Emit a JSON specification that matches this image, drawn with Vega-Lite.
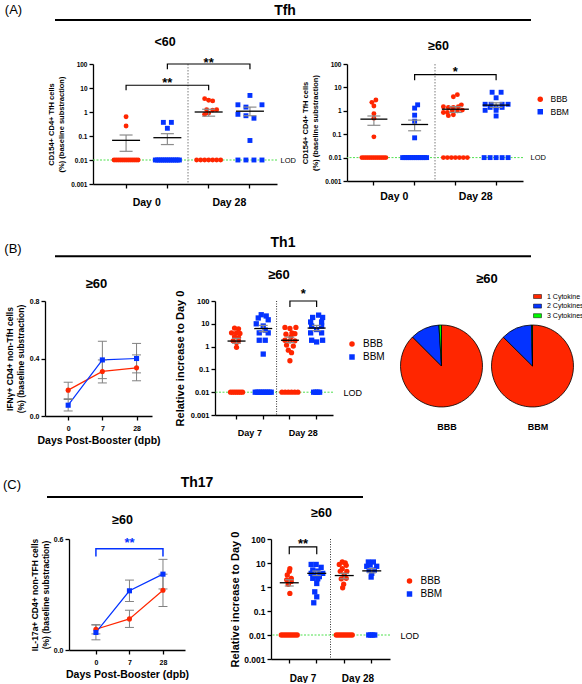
{
"$schema":"https://vega.github.io/schema/vega-lite/v6.json",
"padding":{"left":2,"top":4,"right":0,"bottom":0},
"bounds":"full",
"spacing":0,
"resolve":{"scale":{"color":"independent","shape":"independent","xOffset":"independent"},"legend":{"color":"independent","shape":"independent"}},
"config":{
 "view":{"stroke":null},
 "font":"Liberation Sans",
 "axis":{"grid":false,"domainColor":"black","tickColor":"black","labelColor":"black","titleColor":"black","domainWidth":1.3,"tickWidth":1.3,"tickSize":4,"labelFont":"Liberation Sans","titleFont":"Liberation Sans","labelFontWeight":"bold","titleFontWeight":"bold"},
 "title":{"font":"Liberation Sans","color":"black","fontWeight":"bold","anchor":"middle","frame":"group","baseline":"alphabetic"},
 "legend":{"labelFont":"Liberation Sans","labelColor":"black","padding":0},
 "text":{"font":"Liberation Sans","color":"black"}
},
"datasets":{
 "tfh1_pts":[
  {"g":"D0_BBB","s":"BBB","v":0.63,"k":0},{"g":"D0_BBB","s":"BBB","v":0.26,"k":0},
  {"g":"D0_BBB","s":"BBB","v":0.01,"k":-6},{"g":"D0_BBB","s":"BBB","v":0.01,"k":-5},{"g":"D0_BBB","s":"BBB","v":0.01,"k":-4},{"g":"D0_BBB","s":"BBB","v":0.01,"k":-3},{"g":"D0_BBB","s":"BBB","v":0.01,"k":-2},{"g":"D0_BBB","s":"BBB","v":0.01,"k":-1},{"g":"D0_BBB","s":"BBB","v":0.01,"k":0},{"g":"D0_BBB","s":"BBB","v":0.01,"k":1},{"g":"D0_BBB","s":"BBB","v":0.01,"k":2},{"g":"D0_BBB","s":"BBB","v":0.01,"k":3},{"g":"D0_BBB","s":"BBB","v":0.01,"k":4},{"g":"D0_BBB","s":"BBB","v":0.01,"k":5},{"g":"D0_BBB","s":"BBB","v":0.01,"k":6},
  {"g":"D0_BBM","s":"BBM","v":0.37,"k":-2},{"g":"D0_BBM","s":"BBM","v":0.37,"k":2},{"g":"D0_BBM","s":"BBM","v":0.21,"k":0},
  {"g":"D0_BBM","s":"BBM","v":0.01,"k":-6},{"g":"D0_BBM","s":"BBM","v":0.01,"k":-5},{"g":"D0_BBM","s":"BBM","v":0.01,"k":-4},{"g":"D0_BBM","s":"BBM","v":0.01,"k":-3},{"g":"D0_BBM","s":"BBM","v":0.01,"k":-2},{"g":"D0_BBM","s":"BBM","v":0.01,"k":-1},{"g":"D0_BBM","s":"BBM","v":0.01,"k":0},{"g":"D0_BBM","s":"BBM","v":0.01,"k":1},{"g":"D0_BBM","s":"BBM","v":0.01,"k":2},{"g":"D0_BBM","s":"BBM","v":0.01,"k":3},{"g":"D0_BBM","s":"BBM","v":0.01,"k":4},{"g":"D0_BBM","s":"BBM","v":0.01,"k":5},{"g":"D0_BBM","s":"BBM","v":0.01,"k":6},
  {"g":"D28_BBB","s":"BBB","v":3.6,"k":-2},{"g":"D28_BBB","s":"BBB","v":3.1,"k":0},{"g":"D28_BBB","s":"BBB","v":2.9,"k":2},{"g":"D28_BBB","s":"BBB","v":1.25,"k":-1},{"g":"D28_BBB","s":"BBB","v":1.2,"k":2},{"g":"D28_BBB","s":"BBB","v":1.25,"k":4},{"g":"D28_BBB","s":"BBB","v":0.9,"k":0},{"g":"D28_BBB","s":"BBB","v":0.8,"k":-2},
  {"g":"D28_BBB","s":"BBB","v":0.01,"k":-6},{"g":"D28_BBB","s":"BBB","v":0.01,"k":-4},{"g":"D28_BBB","s":"BBB","v":0.01,"k":-2},{"g":"D28_BBB","s":"BBB","v":0.01,"k":0},{"g":"D28_BBB","s":"BBB","v":0.01,"k":2},{"g":"D28_BBB","s":"BBB","v":0.01,"k":4},{"g":"D28_BBB","s":"BBB","v":0.01,"k":6},
  {"g":"D28_BBM","s":"BBM","v":4.9,"k":0},{"g":"D28_BBM","s":"BBM","v":2.0,"k":-6},{"g":"D28_BBM","s":"BBM","v":2.0,"k":6},{"g":"D28_BBM","s":"BBM","v":1.6,"k":-2},{"g":"D28_BBM","s":"BBM","v":0.8,"k":-6},{"g":"D28_BBM","s":"BBM","v":0.7,"k":-2},{"g":"D28_BBM","s":"BBM","v":0.55,"k":2},{"g":"D28_BBM","s":"BBM","v":0.065,"k":0},
  {"g":"D28_BBM","s":"BBM","v":0.01,"k":-6},{"g":"D28_BBM","s":"BBM","v":0.01,"k":-2},{"g":"D28_BBM","s":"BBM","v":0.01,"k":2},{"g":"D28_BBM","s":"BBM","v":0.01,"k":6}
 ],
 "tfh1_st":[{"g":"D0_BBB","m":0.066,"lo":0.023,"hi":0.11},{"g":"D0_BBM","m":0.085,"lo":0.044,"hi":0.125},{"g":"D28_BBB","m":1.0,"lo":0.67,"hi":1.3},{"g":"D28_BBM","m":1.08,"lo":0.7,"hi":1.6}],
 "tfh1_br":[{"b":1,"g":"D0_BBB","y":8,"o":1},{"b":1,"g":"D0_BBB","y":13,"o":2},{"b":1,"g":"D28_BBB","y":13,"o":3},{"b":1,"g":"D28_BBB","y":8,"o":4},{"b":2,"g":"D0_BBM","y":60,"o":1},{"b":2,"g":"D0_BBM","y":100,"o":2},{"b":2,"g":"D28_BBM","y":100,"o":3},{"b":2,"g":"D28_BBM","y":60,"o":4}],
 "tfh1_sig":[{"g":"D0_BBM","y":22,"lab":"**"},{"g":"D28_BBB","y":147,"lab":"**"}],
 "tfh2_pts":[
  {"g":"D0_BBB","s":"BBB","v":2.9,"k":1},{"g":"D0_BBB","s":"BBB","v":2.3,"k":-1},{"g":"D0_BBB","s":"BBB","v":1.6,"k":0},{"g":"D0_BBB","s":"BBB","v":0.75,"k":0},{"g":"D0_BBB","s":"BBB","v":0.48,"k":0},{"g":"D0_BBB","s":"BBB","v":0.077,"k":0},
  {"g":"D0_BBB","s":"BBB","v":0.01,"k":-6},{"g":"D0_BBB","s":"BBB","v":0.01,"k":-5},{"g":"D0_BBB","s":"BBB","v":0.01,"k":-4},{"g":"D0_BBB","s":"BBB","v":0.01,"k":-3},{"g":"D0_BBB","s":"BBB","v":0.01,"k":-2},{"g":"D0_BBB","s":"BBB","v":0.01,"k":-1},{"g":"D0_BBB","s":"BBB","v":0.01,"k":0},{"g":"D0_BBB","s":"BBB","v":0.01,"k":1},{"g":"D0_BBB","s":"BBB","v":0.01,"k":2},{"g":"D0_BBB","s":"BBB","v":0.01,"k":3},{"g":"D0_BBB","s":"BBB","v":0.01,"k":4},{"g":"D0_BBB","s":"BBB","v":0.01,"k":5},{"g":"D0_BBB","s":"BBB","v":0.01,"k":6},
  {"g":"D0_BBM","s":"BBM","v":1.8,"k":1.5},{"g":"D0_BBM","s":"BBM","v":1.3,"k":0},{"g":"D0_BBM","s":"BBM","v":0.65,"k":0},{"g":"D0_BBM","s":"BBM","v":0.36,"k":0},{"g":"D0_BBM","s":"BBM","v":0.07,"k":0},
  {"g":"D0_BBM","s":"BBM","v":0.01,"k":-6},{"g":"D0_BBM","s":"BBM","v":0.01,"k":-5},{"g":"D0_BBM","s":"BBM","v":0.01,"k":-4},{"g":"D0_BBM","s":"BBM","v":0.01,"k":-3},{"g":"D0_BBM","s":"BBM","v":0.01,"k":-2},{"g":"D0_BBM","s":"BBM","v":0.01,"k":-1},{"g":"D0_BBM","s":"BBM","v":0.01,"k":0},{"g":"D0_BBM","s":"BBM","v":0.01,"k":1},{"g":"D0_BBM","s":"BBM","v":0.01,"k":2},{"g":"D0_BBM","s":"BBM","v":0.01,"k":3},{"g":"D0_BBM","s":"BBM","v":0.01,"k":4},{"g":"D0_BBM","s":"BBM","v":0.01,"k":5},{"g":"D0_BBM","s":"BBM","v":0.01,"k":6},
  {"g":"D28_BBB","s":"BBB","v":4.9,"k":1},{"g":"D28_BBB","s":"BBB","v":4.0,"k":-1},{"g":"D28_BBB","s":"BBB","v":1.5,"k":-6},{"g":"D28_BBB","s":"BBB","v":1.4,"k":-3.5},{"g":"D28_BBB","s":"BBB","v":1.4,"k":-1},{"g":"D28_BBB","s":"BBB","v":1.5,"k":1.5},{"g":"D28_BBB","s":"BBB","v":1.8,"k":3},{"g":"D28_BBB","s":"BBB","v":0.85,"k":-6},{"g":"D28_BBB","s":"BBB","v":0.85,"k":-4},{"g":"D28_BBB","s":"BBB","v":1.0,"k":-1.5},{"g":"D28_BBB","s":"BBB","v":1.0,"k":1},{"g":"D28_BBB","s":"BBB","v":1.07,"k":3.5},{"g":"D28_BBB","s":"BBB","v":0.62,"k":-3.5},{"g":"D28_BBB","s":"BBB","v":0.68,"k":-1},
  {"g":"D28_BBB","s":"BBB","v":0.01,"k":-6},{"g":"D28_BBB","s":"BBB","v":0.01,"k":-4},{"g":"D28_BBB","s":"BBB","v":0.01,"k":-2},{"g":"D28_BBB","s":"BBB","v":0.01,"k":0},{"g":"D28_BBB","s":"BBB","v":0.01,"k":2},{"g":"D28_BBB","s":"BBB","v":0.01,"k":4},{"g":"D28_BBB","s":"BBB","v":0.01,"k":6},
  {"g":"D28_BBM","s":"BBM","v":6.2,"k":-2},{"g":"D28_BBM","s":"BBM","v":6.2,"k":2.5},{"g":"D28_BBM","s":"BBM","v":3.6,"k":0},{"g":"D28_BBM","s":"BBM","v":1.9,"k":-5.5},{"g":"D28_BBM","s":"BBM","v":1.9,"k":-2.5},{"g":"D28_BBM","s":"BBM","v":1.9,"k":3},{"g":"D28_BBM","s":"BBM","v":1.9,"k":6},{"g":"D28_BBM","s":"BBM","v":1.4,"k":-3},{"g":"D28_BBM","s":"BBM","v":1.4,"k":0},{"g":"D28_BBM","s":"BBM","v":1.4,"k":3},{"g":"D28_BBM","s":"BBM","v":1.05,"k":-5.5},{"g":"D28_BBM","s":"BBM","v":1.05,"k":0},{"g":"D28_BBM","s":"BBM","v":0.6,"k":0},
  {"g":"D28_BBM","s":"BBM","v":0.01,"k":-6},{"g":"D28_BBM","s":"BBM","v":0.01,"k":-3},{"g":"D28_BBM","s":"BBM","v":0.01,"k":0},{"g":"D28_BBM","s":"BBM","v":0.01,"k":3},{"g":"D28_BBM","s":"BBM","v":0.01,"k":6}
 ],
 "tfh2_st":[{"g":"D0_BBB","m":0.44,"lo":0.24,"hi":0.6},{"g":"D0_BBM","m":0.26,"lo":0.14,"hi":0.4},{"g":"D28_BBB","m":1.17,"lo":0.85,"hi":1.5},{"g":"D28_BBM","m":1.75,"lo":1.4,"hi":2.2}],
 "tfh2_br":[{"b":1,"g":"D0_BBM","y":20,"o":1},{"b":1,"g":"D0_BBM","y":35,"o":2},{"b":1,"g":"D28_BBM","y":35,"o":3},{"b":1,"g":"D28_BBM","y":20,"o":4}],
 "tfh2_sig":[{"g":"D28_BBB","y":62,"lab":"*"}],
 "th1_pts":[
  {"g":"D7_BBB","s":"BBB","v":6.5,"k":-1},{"g":"D7_BBB","s":"BBB","v":6,"k":1},{"g":"D7_BBB","s":"BBB","v":4,"k":-2.5},{"g":"D7_BBB","s":"BBB","v":4,"k":0},{"g":"D7_BBB","s":"BBB","v":3.8,"k":1.7},{"g":"D7_BBB","s":"BBB","v":2.7,"k":-1},{"g":"D7_BBB","s":"BBB","v":2.5,"k":1},{"g":"D7_BBB","s":"BBB","v":1.8,"k":-1.7},{"g":"D7_BBB","s":"BBB","v":1.8,"k":1},{"g":"D7_BBB","s":"BBB","v":1.5,"k":0},{"g":"D7_BBB","s":"BBB","v":0.93,"k":0},
  {"g":"D7_BBB","s":"BBB","v":0.01,"k":-3},{"g":"D7_BBB","s":"BBB","v":0.01,"k":-2},{"g":"D7_BBB","s":"BBB","v":0.01,"k":-1},{"g":"D7_BBB","s":"BBB","v":0.01,"k":0},{"g":"D7_BBB","s":"BBB","v":0.01,"k":1},{"g":"D7_BBB","s":"BBB","v":0.01,"k":2},{"g":"D7_BBB","s":"BBB","v":0.01,"k":3},
  {"g":"D7_BBM","s":"BBM","v":25,"k":-1},{"g":"D7_BBM","s":"BBM","v":22,"k":1.5},{"g":"D7_BBM","s":"BBM","v":18,"k":-2.5},{"g":"D7_BBM","s":"BBM","v":15,"k":2.5},{"g":"D7_BBM","s":"BBM","v":10,"k":-3.5},{"g":"D7_BBM","s":"BBM","v":8,"k":0},{"g":"D7_BBM","s":"BBM","v":5.3,"k":1},{"g":"D7_BBM","s":"BBM","v":4,"k":-2},{"g":"D7_BBM","s":"BBM","v":4,"k":2.5},{"g":"D7_BBM","s":"BBM","v":1.9,"k":-2},{"g":"D7_BBM","s":"BBM","v":1.9,"k":1},{"g":"D7_BBM","s":"BBM","v":0.47,"k":0},
  {"g":"D7_BBM","s":"BBM","v":0.01,"k":-4},{"g":"D7_BBM","s":"BBM","v":0.01,"k":-3},{"g":"D7_BBM","s":"BBM","v":0.01,"k":-2},{"g":"D7_BBM","s":"BBM","v":0.01,"k":-1},{"g":"D7_BBM","s":"BBM","v":0.01,"k":0},{"g":"D7_BBM","s":"BBM","v":0.01,"k":1},{"g":"D7_BBM","s":"BBM","v":0.01,"k":2},{"g":"D7_BBM","s":"BBM","v":0.01,"k":3},{"g":"D7_BBM","s":"BBM","v":0.01,"k":4},
  {"g":"D28_BBB","s":"BBB","v":6.9,"k":-2.5},{"g":"D28_BBB","s":"BBB","v":6.3,"k":0},{"g":"D28_BBB","s":"BBB","v":6.9,"k":3},{"g":"D28_BBB","s":"BBB","v":4.0,"k":1},{"g":"D28_BBB","s":"BBB","v":3.5,"k":-2},{"g":"D28_BBB","s":"BBB","v":3.7,"k":2.5},{"g":"D28_BBB","s":"BBB","v":2.7,"k":0.5},{"g":"D28_BBB","s":"BBB","v":1.9,"k":-2.5},{"g":"D28_BBB","s":"BBB","v":1.8,"k":0},{"g":"D28_BBB","s":"BBB","v":1.8,"k":2.5},{"g":"D28_BBB","s":"BBB","v":1.17,"k":-1.7},{"g":"D28_BBB","s":"BBB","v":1.05,"k":1.7},{"g":"D28_BBB","s":"BBB","v":0.7,"k":-0.8},{"g":"D28_BBB","s":"BBB","v":0.54,"k":0.8},{"g":"D28_BBB","s":"BBB","v":0.24,"k":0},
  {"g":"D28_BBB","s":"BBB","v":0.01,"k":-4},{"g":"D28_BBB","s":"BBB","v":0.01,"k":-2.4},{"g":"D28_BBB","s":"BBB","v":0.01,"k":-0.8},{"g":"D28_BBB","s":"BBB","v":0.01,"k":0.8},{"g":"D28_BBB","s":"BBB","v":0.01,"k":2.4},{"g":"D28_BBB","s":"BBB","v":0.01,"k":4},
  {"g":"D28_BBM","s":"BBM","v":24,"k":1},{"g":"D28_BBM","s":"BBM","v":19,"k":-2},{"g":"D28_BBM","s":"BBM","v":19,"k":3},{"g":"D28_BBM","s":"BBM","v":12,"k":-3},{"g":"D28_BBM","s":"BBM","v":12,"k":2.5},{"g":"D28_BBM","s":"BBM","v":8,"k":-2.5},{"g":"D28_BBM","s":"BBM","v":8,"k":2.5},{"g":"D28_BBM","s":"BBM","v":5.6,"k":0},{"g":"D28_BBM","s":"BBM","v":4,"k":-3},{"g":"D28_BBM","s":"BBM","v":4,"k":2.5},{"g":"D28_BBM","s":"BBM","v":1.9,"k":-2.5},{"g":"D28_BBM","s":"BBM","v":1.6,"k":0},{"g":"D28_BBM","s":"BBM","v":1.9,"k":3},
  {"g":"D28_BBM","s":"BBM","v":0.01,"k":-1.5},{"g":"D28_BBM","s":"BBM","v":0.01,"k":-0.5},{"g":"D28_BBM","s":"BBM","v":0.01,"k":0.5},{"g":"D28_BBM","s":"BBM","v":0.01,"k":1.5}
 ],
 "th1_st":[{"g":"D7_BBB","m":1.75,"lo":1.4,"hi":2.3},{"g":"D7_BBM","m":6.2,"lo":4.5,"hi":8.5},{"g":"D28_BBB","m":1.9,"lo":1.5,"hi":2.6},{"g":"D28_BBM","m":6.5,"lo":5.0,"hi":8.5}],
 "th1_br":[{"b":1,"g":"D28_BBB","y":55,"o":1},{"b":1,"g":"D28_BBB","y":100,"o":2},{"b":1,"g":"D28_BBM","y":100,"o":3},{"b":1,"g":"D28_BBM","y":55,"o":4}],
 "th1_sig":[{"g":"D28_BBB","y":270,"lab":"*"}],
 "th17_pts":[
  {"g":"D7_BBB","s":"BBB","v":5.8,"k":0.3},{"g":"D7_BBB","s":"BBB","v":4.5,"k":0},{"g":"D7_BBB","s":"BBB","v":3.2,"k":-1},{"g":"D7_BBB","s":"BBB","v":2.3,"k":1},{"g":"D7_BBB","s":"BBB","v":2.0,"k":-1.3},{"g":"D7_BBB","s":"BBB","v":1.7,"k":1},{"g":"D7_BBB","s":"BBB","v":1.3,"k":-0.5},{"g":"D7_BBB","s":"BBB","v":0.54,"k":0.3},
  {"g":"D7_BBB","s":"BBB","v":0.01,"k":-4},{"g":"D7_BBB","s":"BBB","v":0.01,"k":-3},{"g":"D7_BBB","s":"BBB","v":0.01,"k":-2},{"g":"D7_BBB","s":"BBB","v":0.01,"k":-1},{"g":"D7_BBB","s":"BBB","v":0.01,"k":0},{"g":"D7_BBB","s":"BBB","v":0.01,"k":1},{"g":"D7_BBB","s":"BBB","v":0.01,"k":2},{"g":"D7_BBB","s":"BBB","v":0.01,"k":3},{"g":"D7_BBB","s":"BBB","v":0.01,"k":4},
  {"g":"D7_BBM","s":"BBM","v":8.7,"k":-2.8},{"g":"D7_BBM","s":"BBM","v":8.7,"k":-0.3},{"g":"D7_BBM","s":"BBM","v":6.6,"k":2.2},{"g":"D7_BBM","s":"BBM","v":5.1,"k":-2},{"g":"D7_BBM","s":"BBM","v":4.6,"k":0.5},{"g":"D7_BBM","s":"BBM","v":3.7,"k":-2.8},{"g":"D7_BBM","s":"BBM","v":3.7,"k":3},{"g":"D7_BBM","s":"BBM","v":3.0,"k":-1.2},{"g":"D7_BBM","s":"BBM","v":2.7,"k":1.3},{"g":"D7_BBM","s":"BBM","v":2.3,"k":-2},{"g":"D7_BBM","s":"BBM","v":2.2,"k":0.5},{"g":"D7_BBM","s":"BBM","v":1.4,"k":0},{"g":"D7_BBM","s":"BBM","v":0.63,"k":-1},{"g":"D7_BBM","s":"BBM","v":0.39,"k":0},{"g":"D7_BBM","s":"BBM","v":0.22,"k":-1.5},
  {"g":"D28_BBB","s":"BBB","v":11,"k":-1},{"g":"D28_BBB","s":"BBB","v":10,"k":0.5},{"g":"D28_BBB","s":"BBB","v":8.7,"k":-2.5},{"g":"D28_BBB","s":"BBB","v":8.0,"k":1},{"g":"D28_BBB","s":"BBB","v":5.8,"k":-1},{"g":"D28_BBB","s":"BBB","v":4.5,"k":-2},{"g":"D28_BBB","s":"BBB","v":4.5,"k":1.3},{"g":"D28_BBB","s":"BBB","v":3.2,"k":0},{"g":"D28_BBB","s":"BBB","v":2.2,"k":-1.5},{"g":"D28_BBB","s":"BBB","v":2.3,"k":1},{"g":"D28_BBB","s":"BBB","v":1.3,"k":-0.3},{"g":"D28_BBB","s":"BBB","v":0.93,"k":-0.8},
  {"g":"D28_BBB","s":"BBB","v":0.01,"k":-4},{"g":"D28_BBB","s":"BBB","v":0.01,"k":-3},{"g":"D28_BBB","s":"BBB","v":0.01,"k":-2},{"g":"D28_BBB","s":"BBB","v":0.01,"k":-1},{"g":"D28_BBB","s":"BBB","v":0.01,"k":0},{"g":"D28_BBB","s":"BBB","v":0.01,"k":1},{"g":"D28_BBB","s":"BBB","v":0.01,"k":2},{"g":"D28_BBB","s":"BBB","v":0.01,"k":3},{"g":"D28_BBB","s":"BBB","v":0.01,"k":4},
  {"g":"D28_BBM","s":"BBM","v":11,"k":-1.7},{"g":"D28_BBM","s":"BBM","v":11,"k":0.8},{"g":"D28_BBM","s":"BBM","v":8.7,"k":-0.8},{"g":"D28_BBM","s":"BBM","v":7.3,"k":-2.5},{"g":"D28_BBM","s":"BBM","v":7.3,"k":2.5},{"g":"D28_BBM","s":"BBM","v":5.1,"k":-1.3},{"g":"D28_BBM","s":"BBM","v":5.1,"k":1.3},{"g":"D28_BBM","s":"BBM","v":3.7,"k":0},{"g":"D28_BBM","s":"BBM","v":2.6,"k":-0.3},
  {"g":"D28_BBM","s":"BBM","v":0.01,"k":-1.5},{"g":"D28_BBM","s":"BBM","v":0.01,"k":-0.5},{"g":"D28_BBM","s":"BBM","v":0.01,"k":0.5},{"g":"D28_BBM","s":"BBM","v":0.01,"k":1.5}
 ],
 "th17_st":[{"g":"D7_BBB","m":1.5,"lo":1.1,"hi":2.0},{"g":"D7_BBM","m":3.7,"lo":3.0,"hi":4.6},{"g":"D28_BBB","m":3.0,"lo":2.2,"hi":3.7},{"g":"D28_BBM","m":4.7,"lo":3.9,"hi":5.8}],
 "th17_br":[{"b":1,"g":"D7_BBB","y":23,"o":1},{"b":1,"g":"D7_BBB","y":47,"o":2},{"b":1,"g":"D7_BBM","y":47,"o":3},{"b":1,"g":"D7_BBM","y":23,"o":4}],
 "th17_sig":[{"g":"D7_BBB","y":85,"lab":"**"}],
 "th1_line":[{"d":0,"s":"BBB","m":0.18,"lo":0.12,"hi":0.235},{"d":7,"s":"BBB","m":0.31,"lo":0.23,"hi":0.39},{"d":28,"s":"BBB","m":0.335,"lo":0.245,"hi":0.425},{"d":0,"s":"BBM","m":0.075,"lo":0.035,"hi":0.115},{"d":7,"s":"BBM","m":0.39,"lo":0.26,"hi":0.52},{"d":28,"s":"BBM","m":0.4,"lo":0.3,"hi":0.505}],
 "th17_line":[{"d":0,"s":"BBB","m":0.112,"lo":0.087,"hi":0.137},{"d":7,"s":"BBB","m":0.168,"lo":0.122,"hi":0.215},{"d":28,"s":"BBB","m":0.323,"lo":0.235,"hi":0.41},{"d":0,"s":"BBM","m":0.095,"lo":0.055,"hi":0.135},{"d":7,"s":"BBM","m":0.32,"lo":0.262,"hi":0.378},{"d":28,"s":"BBM","m":0.41,"lo":0.33,"hi":0.49}],
 "th17_lbr":[{"d":0,"y":0.505,"o":1},{"d":0,"y":0.547,"o":2},{"d":28,"y":0.547,"o":3},{"d":28,"y":0.505,"o":4}],
 "pies":[{"grp":"BBB","c":"1 Cytokine","p":87.5},{"grp":"BBB","c":"2 Cytokines","p":11.5},{"grp":"BBB","c":"3 Cytokines","p":1.0},{"grp":"BBM","c":"1 Cytokine","p":87.4},{"grp":"BBM","c":"2 Cytokines","p":12.2},{"grp":"BBM","c":"3 Cytokines","p":0.4}]
},
"vconcat":[
 {"hconcat":[
   {"width":20,"height":16,"data":{"values":[{"t":"(A)","y":1}]},"mark":{"type":"text","fontSize":13,"baseline":"top","dx":1.5},"encoding":{"text":{"field":"t"},"y":{"field":"y","type":"quantitative","scale":{"domain":[0,1]},"axis":null}}},
   {"width":33,"height":1,"data":{"values":[]},"mark":"point","encoding":{}},
   {"width":476,"height":16,"layer":[
     {"data":{"values":[{"t":"Tfh","y":1}]},"mark":{"type":"text","fontSize":14,"fontWeight":"bold","baseline":"top","dx":-8},"encoding":{"text":{"field":"t"},"y":{"field":"y","type":"quantitative","scale":{"domain":[0,1]},"axis":null}}},
     {"data":{"values":[{"y":0}]},"mark":{"type":"rule","color":"black","strokeWidth":2},"encoding":{"y":{"field":"y","type":"quantitative","axis":null}}}
   ]}
  ],"spacing":0,"bounds":"flush"},
 {"width":1,"height":14.5,"data":{"values":[]},"mark":"point","encoding":{}},
 {"hconcat":[
   {"width":91,"height":1,"data":{"values":[]},"mark":"point","encoding":{}},
   {"width":184,"height":120,
    "title":{"text":"<60","offset":8,"fontSize":12.5,"dx":-20},
    "resolve":{"scale":{"y":"independent"}},
    "layer":[
     {"data":{"values":[{"y":0.01}]},"mark":{"type":"rule","color":"#4fe04f","strokeDash":[2,1.5],"strokeWidth":1},
      "encoding":{"y":{"field":"y","type":"quantitative","scale":{"type":"log","domain":[0.001,100]},"axis":{"orient":"right","values":[0.01],"labelExpr":"'LOD'","domain":false,"ticks":false,"labelPadding":3,"labelFontSize":7.5,"labelFontWeight":"normal","title":null,"labelAlign":"left","labelBaseline":"middle"}}}},
     {"layer":[
      {"data":{"name":"tfh1_pts"},"mark":{"type":"point","filled":true,"size":24,"opacity":1},
       "encoding":{
        "x":{"field":"g","type":"nominal","scale":{"type":"band","domain":["D0_BBB","D0_BBM","D28_BBB","D28_BBM"],"paddingInner":0,"paddingOuter":0.228,"align":0.66},"axis":{"title":null,"labelExpr":"datum.value=='D0_BBM'?'Day 0':datum.value=='D28_BBM'?'Day 28':''","labelOffset":-20.65,"labelPadding":9.5,"labelFontSize":10.5,"labelAngle":0,"labelOverlap":false}},
        "xOffset":{"field":"k","type":"quantitative","scale":{"domain":[-10.3,10.3]}},
        "y":{"field":"v","type":"quantitative","scale":{"type":"log","domain":[0.001,100]},"axis":{"title":["CD154+ CD4+ TfH cells","(%) (baseline substraction)"],"values":[0.001,0.01,0.1,1,10,100],"format":"~g","labelFontSize":6.5,"titleFontSize":7.5,"titlePadding":5,"titleLineHeight":10}},
        "color":{"field":"s","type":"nominal","scale":{"domain":["BBB","BBM"],"range":["#FF2600","#0433FF"]},"legend":null},
        "shape":{"field":"s","type":"nominal","scale":{"domain":["BBB","BBM"],"range":["circle","square"]},"legend":null}}},
      {"data":{"values":[{"g":"D28_BBB"}]},"mark":{"type":"rule","color":"#9a9a9a","strokeDash":[1.5,1.5],"strokeWidth":1.3},"encoding":{"x":{"field":"g","type":"nominal","bandPosition":0}}},
      {"data":{"name":"tfh1_st"},"mark":{"type":"rule","color":"#8c8c8c","strokeWidth":1.2},"encoding":{"x":{"field":"g","type":"nominal","bandPosition":0.5},"y":{"field":"lo","type":"quantitative"},"y2":{"field":"hi"}}},
      {"data":{"name":"tfh1_st"},"mark":{"type":"tick","color":"#8c8c8c","size":13,"thickness":1.2,"opacity":1},"encoding":{"x":{"field":"g","type":"nominal","bandPosition":0.5},"y":{"field":"lo","type":"quantitative"}}},
      {"data":{"name":"tfh1_st"},"mark":{"type":"tick","color":"#8c8c8c","size":13,"thickness":1.2,"opacity":1},"encoding":{"x":{"field":"g","type":"nominal","bandPosition":0.5},"y":{"field":"hi","type":"quantitative"}}},
      {"data":{"name":"tfh1_st"},"mark":{"type":"tick","color":"black","size":28,"thickness":1.3,"opacity":1},"encoding":{"x":{"field":"g","type":"nominal","bandPosition":0.5},"y":{"field":"m","type":"quantitative"}}},
      {"data":{"name":"tfh1_br"},"mark":{"type":"line","color":"black","strokeWidth":1.2},"encoding":{"x":{"field":"g","type":"nominal","bandPosition":0.5},"y":{"field":"y","type":"quantitative"},"detail":{"field":"b"},"order":{"field":"o"}}},
      {"data":{"name":"tfh1_sig"},"mark":{"type":"text","fontSize":13,"fontWeight":"bold","baseline":"alphabetic","dy":7,"color":"black"},"encoding":{"x":{"field":"g","type":"nominal","bandPosition":0.5},"y":{"field":"y","type":"quantitative"},"text":{"field":"lab"}}}
     ]}
    ]},
   {"width":70,"height":1,"data":{"values":[]},"mark":"point","encoding":{}},
   {"width":176,"height":117,
    "title":{"text":"≥60","offset":9,"fontSize":12.5,"dx":3.5},
    "resolve":{"scale":{"y":"independent"}},
    "layer":[
     {"data":{"values":[{"y":0.01}]},"mark":{"type":"rule","color":"#4fe04f","strokeDash":[2,1.5],"strokeWidth":1},
      "encoding":{"y":{"field":"y","type":"quantitative","scale":{"type":"log","domain":[0.001,100]},"axis":{"orient":"right","values":[0.01],"labelExpr":"'LOD'","domain":false,"ticks":false,"labelPadding":7,"labelFontSize":7.5,"labelFontWeight":"normal","title":null,"labelAlign":"left","labelBaseline":"middle"}}}},
     {"layer":[
      {"data":{"name":"tfh2_pts"},"mark":{"type":"point","filled":true,"size":24,"opacity":1},
       "encoding":{
        "x":{"field":"g","type":"nominal","scale":{"type":"band","domain":["D0_BBB","D0_BBM","D28_BBB","D28_BBM"],"paddingInner":0,"paddingOuter":0.16,"align":0.5},"axis":{"title":null,"labelExpr":"datum.value=='D0_BBM'?'Day 0':datum.value=='D28_BBM'?'Day 28':''","labelOffset":-20.35,"labelPadding":6.5,"labelFontSize":10.5,"labelAngle":0,"labelOverlap":false}},
        "xOffset":{"field":"k","type":"quantitative","scale":{"domain":[-10.2,10.2]}},
        "y":{"field":"v","type":"quantitative","scale":{"type":"log","domain":[0.001,100]},"axis":{"title":["CD154+ CD4+ TfH cells","(%) (baseline substraction)"],"values":[0.001,0.01,0.1,1,10,100],"format":"~g","labelFontSize":6.5,"titleFontSize":7.5,"titlePadding":5,"titleLineHeight":10}},
        "color":{"field":"s","type":"nominal","scale":{"domain":["BBB","BBM"],"range":["#FF2600","#0433FF"]},"legend":{"title":null,"orient":"none","legendX":189,"legendY":31,"labelFontSize":8.5,"labelFontWeight":"normal","symbolSize":30,"rowPadding":3.5,"labelOffset":6}},
        "shape":{"field":"s","type":"nominal","scale":{"domain":["BBB","BBM"],"range":["circle","square"]},"legend":{"title":null,"orient":"none","legendX":189,"legendY":31,"labelFontSize":8.5,"labelFontWeight":"normal","symbolSize":30,"rowPadding":3.5,"labelOffset":6}}}},
      {"data":{"values":[{"g":"D28_BBB"}]},"mark":{"type":"rule","color":"#9a9a9a","strokeDash":[1.5,1.5],"strokeWidth":1.3},"encoding":{"x":{"field":"g","type":"nominal","bandPosition":0}}},
      {"data":{"name":"tfh2_st"},"mark":{"type":"rule","color":"#8c8c8c","strokeWidth":1.2},"encoding":{"x":{"field":"g","type":"nominal","bandPosition":0.5},"y":{"field":"lo","type":"quantitative"},"y2":{"field":"hi"}}},
      {"data":{"name":"tfh2_st"},"mark":{"type":"tick","color":"#8c8c8c","size":13,"thickness":1.2,"opacity":1},"encoding":{"x":{"field":"g","type":"nominal","bandPosition":0.5},"y":{"field":"lo","type":"quantitative"}}},
      {"data":{"name":"tfh2_st"},"mark":{"type":"tick","color":"#8c8c8c","size":13,"thickness":1.2,"opacity":1},"encoding":{"x":{"field":"g","type":"nominal","bandPosition":0.5},"y":{"field":"hi","type":"quantitative"}}},
      {"data":{"name":"tfh2_st"},"mark":{"type":"tick","color":"black","size":27,"thickness":1.3,"opacity":1},"encoding":{"x":{"field":"g","type":"nominal","bandPosition":0.5},"y":{"field":"m","type":"quantitative"}}},
      {"data":{"name":"tfh2_br"},"mark":{"type":"line","color":"black","strokeWidth":1.2},"encoding":{"x":{"field":"g","type":"nominal","bandPosition":0.5},"y":{"field":"y","type":"quantitative"},"detail":{"field":"b"},"order":{"field":"o"}}},
      {"data":{"name":"tfh2_sig"},"mark":{"type":"text","fontSize":13,"fontWeight":"bold","baseline":"alphabetic","dy":7,"color":"black"},"encoding":{"x":{"field":"g","type":"nominal","bandPosition":0.5},"y":{"field":"y","type":"quantitative"},"text":{"field":"lab"}}}
     ]}
    ]}
  ],"spacing":0,"bounds":"flush","resolve":{"scale":{"color":"independent","shape":"independent","xOffset":"independent"},"legend":{"color":"independent","shape":"independent"}}},
 {"width":1,"height":28,"data":{"values":[]},"mark":"point","encoding":{}},
 {"hconcat":[
   {"width":20,"height":20.3,"data":{"values":[{"t":"(B)","y":1}]},"mark":{"type":"text","fontSize":13,"baseline":"top","dx":1,"dy":7},"encoding":{"text":{"field":"t"},"y":{"field":"y","type":"quantitative","scale":{"domain":[0,1]},"axis":null}}},
   {"width":33,"height":1,"data":{"values":[]},"mark":"point","encoding":{}},
   {"width":476,"height":20.3,"layer":[
     {"data":{"values":[{"t":"Th1","y":1}]},"mark":{"type":"text","fontSize":14,"fontWeight":"bold","baseline":"top","dx":-10},"encoding":{"text":{"field":"t"},"y":{"field":"y","type":"quantitative","scale":{"domain":[0,1]},"axis":null}}},
     {"data":{"values":[{"y":0}]},"mark":{"type":"rule","color":"black","strokeWidth":2},"encoding":{"y":{"field":"y","type":"quantitative","axis":null}}}
   ]}
  ],"spacing":0,"bounds":"flush"},
 {"width":1,"height":10.7,"data":{"values":[]},"mark":"point","encoding":{}},
 {"hconcat":[
   {"width":43,"height":1,"data":{"values":[]},"mark":"point","encoding":{}},
   {"width":107,"height":115,
    "title":{"text":"≥60","offset":6,"fontSize":13,"dx":-2},
    "layer":[
     {"data":{"name":"th1_line"},"mark":{"type":"line","strokeWidth":1.2},"encoding":{
       "x":{"field":"d","type":"ordinal","scale":{"type":"point","domain":[0,7,28],"padding":0.565,"align":0.6},"axis":{"title":"Days Post-Booster (dpb)","labelAngle":0,"labelFontSize":7,"titleFontSize":10.5,"labelPadding":4,"titlePadding":4}},
       "y":{"field":"m","type":"quantitative","scale":{"domain":[0,0.8]},"axis":{"title":["IFNγ+ CD4+ non-TfH cells","(%) (baseline substraction)"],"values":[0,0.2,0.4,0.6,0.8],"format":".1f","labelFontSize":7,"titleFontSize":8.5,"titlePadding":4,"titleLineHeight":10.5}},
       "color":{"field":"s","type":"nominal","scale":{"domain":["BBB","BBM"],"range":["#FF2600","#0433FF"]},"legend":null}}},
     {"data":{"name":"th1_line"},"mark":{"type":"rule","color":"#808080","strokeWidth":1},"encoding":{"x":{"field":"d","type":"ordinal"},"y":{"field":"lo","type":"quantitative"},"y2":{"field":"hi"}}},
     {"data":{"name":"th1_line"},"mark":{"type":"tick","color":"#808080","size":9,"thickness":1,"opacity":1},"encoding":{"x":{"field":"d","type":"ordinal"},"y":{"field":"lo","type":"quantitative"}}},
     {"data":{"name":"th1_line"},"mark":{"type":"tick","color":"#808080","size":9,"thickness":1,"opacity":1},"encoding":{"x":{"field":"d","type":"ordinal"},"y":{"field":"hi","type":"quantitative"}}},
     {"data":{"name":"th1_line"},"mark":{"type":"point","filled":true,"size":26,"opacity":1},"encoding":{"x":{"field":"d","type":"ordinal"},"y":{"field":"m","type":"quantitative"},
       "color":{"field":"s","type":"nominal","scale":{"domain":["BBB","BBM"],"range":["#FF2600","#0433FF"]},"legend":null},
       "shape":{"field":"s","type":"nominal","scale":{"domain":["BBB","BBM"],"range":["circle","square"]},"legend":null}}}
    ]},
   {"width":63,"height":1,"data":{"values":[]},"mark":"point","encoding":{}},
   {"width":118,"height":114,
    "title":{"text":"≥60","offset":6,"fontSize":13,"dx":5},
    "resolve":{"scale":{"y":"independent"}},
    "layer":[
     {"data":{"values":[{"y":0.01}]},"mark":{"type":"rule","color":"#4fe04f","strokeDash":[2,1.5],"strokeWidth":1},
      "encoding":{"y":{"field":"y","type":"quantitative","scale":{"type":"log","domain":[0.001,100]},"axis":{"orient":"right","values":[0.01],"labelExpr":"'LOD'","domain":false,"ticks":false,"labelPadding":10,"labelFontSize":9,"labelFontWeight":"normal","title":null,"labelAlign":"left","labelBaseline":"middle"}}}},
     {"layer":[
      {"data":{"name":"th1_pts"},"mark":{"type":"point","filled":true,"size":28,"opacity":1},
       "encoding":{
        "x":{"field":"g","type":"nominal","scale":{"type":"band","domain":["D7_BBB","D7_BBM","D28_BBB","D28_BBM"],"paddingInner":0,"paddingOuter":0.21,"align":0.73},"axis":{"title":null,"labelExpr":"datum.value=='D7_BBM'?'Day 7':datum.value=='D28_BBM'?'Day 28':''","labelOffset":-13.35,"labelPadding":9,"labelFontSize":9,"labelAngle":0,"labelOverlap":false}},
        "xOffset":{"field":"k","type":"quantitative","scale":{"domain":[-6.7,6.7]}},
        "y":{"field":"v","type":"quantitative","scale":{"type":"log","domain":[0.001,100]},"axis":{"title":"Relative increase to Day 0","values":[0.001,0.01,0.1,1,10,100],"format":"~g","labelFontSize":7.5,"titleFontSize":11,"titlePadding":5}},
        "color":{"field":"s","type":"nominal","scale":{"domain":["BBB","BBM"],"range":["#FF2600","#0433FF"]},"legend":{"title":null,"orient":"none","legendX":132,"legendY":38,"labelFontSize":10,"labelFontWeight":"normal","symbolSize":30,"rowPadding":3,"labelOffset":6}},
        "shape":{"field":"s","type":"nominal","scale":{"domain":["BBB","BBM"],"range":["circle","square"]},"legend":{"title":null,"orient":"none","legendX":132,"legendY":38,"labelFontSize":10,"labelFontWeight":"normal","symbolSize":30,"rowPadding":3,"labelOffset":6}}}},
      {"data":{"values":[{"g":"D28_BBB"}]},"mark":{"type":"rule","color":"#333","strokeDash":[1,1.5],"strokeWidth":1},"encoding":{"x":{"field":"g","type":"nominal","bandPosition":0}}},
      {"data":{"name":"th1_st"},"mark":{"type":"rule","color":"#8c8c8c","strokeWidth":1.2},"encoding":{"x":{"field":"g","type":"nominal","bandPosition":0.5},"y":{"field":"lo","type":"quantitative"},"y2":{"field":"hi"}}},
      {"data":{"name":"th1_st"},"mark":{"type":"tick","color":"#8c8c8c","size":9,"thickness":1.2,"opacity":1},"encoding":{"x":{"field":"g","type":"nominal","bandPosition":0.5},"y":{"field":"lo","type":"quantitative"}}},
      {"data":{"name":"th1_st"},"mark":{"type":"tick","color":"#8c8c8c","size":9,"thickness":1.2,"opacity":1},"encoding":{"x":{"field":"g","type":"nominal","bandPosition":0.5},"y":{"field":"hi","type":"quantitative"}}},
      {"data":{"name":"th1_st"},"mark":{"type":"tick","color":"black","size":18,"thickness":1.3,"opacity":1},"encoding":{"x":{"field":"g","type":"nominal","bandPosition":0.5},"y":{"field":"m","type":"quantitative"}}},
      {"data":{"name":"th1_br"},"mark":{"type":"line","color":"black","strokeWidth":1.2},"encoding":{"x":{"field":"g","type":"nominal","bandPosition":0.5},"y":{"field":"y","type":"quantitative"},"detail":{"field":"b"},"order":{"field":"o"}}},
      {"data":{"name":"th1_sig"},"mark":{"type":"text","fontSize":13,"fontWeight":"bold","baseline":"alphabetic","dy":7,"dx":13.35,"color":"black"},"encoding":{"x":{"field":"g","type":"nominal","bandPosition":0.5},"y":{"field":"y","type":"quantitative"},"text":{"field":"lab"}}}
     ]}
    ]},
   {"width":62.5,"height":1,"data":{"values":[]},"mark":"point","encoding":{}},
   {"width":182,"height":114,
    "title":{"text":"≥60","offset":6,"fontSize":13},
    "data":{"name":"pies"},
    "transform":[{"stack":"p","groupby":["grp"],"sort":[{"field":"c","order":"ascending"}],"as":["t0","t1"]}],
    "mark":{"type":"arc","outerRadius":41,"stroke":"black","strokeWidth":0.8,"yOffset":8},
    "encoding":{
     "x":{"field":"grp","type":"nominal","scale":{"type":"point","domain":["BBB","BBM"],"padding":0.5},"axis":{"title":null,"domain":false,"ticks":false,"labelAngle":0,"labelFontSize":9,"labelPadding":7,"labelOffset":5}},
     "theta":{"field":"t0","type":"quantitative","scale":{"domain":[0,100]}},
     "theta2":{"field":"t1"},
     "color":{"field":"c","type":"nominal","scale":{"domain":["1 Cytokine","2 Cytokines","3 Cytokines"],"range":["#FF2600","#0433FF","#00F900"]},"legend":{"title":null,"orient":"none","legendX":137,"legendY":-9,"symbolType":"M-1,-0.5H1V0.5H-1Z","symbolSize":64,"symbolStrokeColor":"black","symbolStrokeWidth":0.5,"labelFontSize":7,"rowPadding":1.6,"labelOffset":5}}
    }}
  ],"spacing":0,"bounds":"flush","resolve":{"scale":{"color":"independent","shape":"independent","xOffset":"independent"},"legend":{"color":"independent","shape":"independent"}}},
 {"width":1,"height":29.5,"data":{"values":[]},"mark":"point","encoding":{}},
 {"hconcat":[
   {"width":20,"height":21,"data":{"values":[{"t":"(C)","y":1}]},"mark":{"type":"text","fontSize":13,"baseline":"top","dy":3},"encoding":{"text":{"field":"t"},"y":{"field":"y","type":"quantitative","scale":{"domain":[0,1]},"axis":null}}},
   {"width":25,"height":1,"data":{"values":[]},"mark":"point","encoding":{}},
   {"width":316,"height":21,"layer":[
     {"data":{"values":[{"t":"Th17","y":1}]},"mark":{"type":"text","fontSize":14,"fontWeight":"bold","baseline":"top","dx":-8},"encoding":{"text":{"field":"t"},"y":{"field":"y","type":"quantitative","scale":{"domain":[0,1]},"axis":null}}},
     {"data":{"values":[{"y":0}]},"mark":{"type":"rule","color":"black","strokeWidth":2},"encoding":{"y":{"field":"y","type":"quantitative","axis":null}}}
   ]}
  ],"spacing":0,"bounds":"flush"},
 {"width":1,"height":8,"data":{"values":[]},"mark":"point","encoding":{}},
 {"hconcat":[
   {"width":67,"height":1,"data":{"values":[]},"mark":"point","encoding":{}},
   {"width":116,"height":111,
    "title":{"text":"≥60","offset":9,"fontSize":12.5,"dx":-4.5},
    "layer":[
     {"data":{"name":"th17_line"},"mark":{"type":"line","strokeWidth":1.2},"encoding":{
       "x":{"field":"d","type":"ordinal","scale":{"type":"point","domain":[0,7,28],"padding":0.73,"align":0.55},"axis":{"title":"Days Post-Booster (dpb)","labelAngle":0,"labelFontSize":7,"titleFontSize":10.5,"labelPadding":4,"titlePadding":4}},
       "y":{"field":"m","type":"quantitative","scale":{"domain":[0,0.6]},"axis":{"title":["IL-17a+ CD4+ non-TFH cells","(%) (baseline substraction)"],"values":[0,0.2,0.4,0.6],"format":".1f","labelFontSize":7,"titleFontSize":8.5,"titlePadding":3,"titleLineHeight":10.5}},
       "color":{"field":"s","type":"nominal","scale":{"domain":["BBB","BBM"],"range":["#FF2600","#0433FF"]},"legend":null}}},
     {"data":{"name":"th17_line"},"mark":{"type":"rule","color":"#808080","strokeWidth":1},"encoding":{"x":{"field":"d","type":"ordinal"},"y":{"field":"lo","type":"quantitative"},"y2":{"field":"hi"}}},
     {"data":{"name":"th17_line"},"mark":{"type":"tick","color":"#808080","size":9,"thickness":1,"opacity":1},"encoding":{"x":{"field":"d","type":"ordinal"},"y":{"field":"lo","type":"quantitative"}}},
     {"data":{"name":"th17_line"},"mark":{"type":"tick","color":"#808080","size":9,"thickness":1,"opacity":1},"encoding":{"x":{"field":"d","type":"ordinal"},"y":{"field":"hi","type":"quantitative"}}},
     {"data":{"name":"th17_line"},"mark":{"type":"point","filled":true,"size":26,"opacity":1},"encoding":{"x":{"field":"d","type":"ordinal"},"y":{"field":"m","type":"quantitative"},
       "color":{"field":"s","type":"nominal","scale":{"domain":["BBB","BBM"],"range":["#FF2600","#0433FF"]},"legend":null},
       "shape":{"field":"s","type":"nominal","scale":{"domain":["BBB","BBM"],"range":["circle","square"]},"legend":null}}},
     {"data":{"name":"th17_lbr"},"mark":{"type":"line","color":"#0433FF","strokeWidth":1.5},"encoding":{"x":{"field":"d","type":"ordinal"},"y":{"field":"y","type":"quantitative"},"order":{"field":"o"}}},
     {"data":{"values":[{"d":7,"y":0.595,"lab":"**"}]},"mark":{"type":"text","fontSize":13,"fontWeight":"bold","baseline":"alphabetic","dy":7,"color":"#0433FF"},"encoding":{"x":{"field":"d","type":"ordinal"},"y":{"field":"y","type":"quantitative"},"text":{"field":"lab"}}}
    ]},
   {"width":86,"height":1,"data":{"values":[]},"mark":"point","encoding":{}},
   {"width":119,"height":120,
    "title":{"text":"≥60","offset":12,"fontSize":12.5,"dx":-9},
    "resolve":{"scale":{"y":"independent"}},
    "layer":[
     {"data":{"values":[{"y":0.01}]},"mark":{"type":"rule","color":"#4fe04f","strokeDash":[2,1.5],"strokeWidth":1},
      "encoding":{"y":{"field":"y","type":"quantitative","scale":{"type":"log","domain":[0.001,100]},"axis":{"orient":"right","values":[0.01],"labelExpr":"'LOD'","domain":false,"ticks":false,"labelPadding":10,"labelFontSize":9,"labelFontWeight":"normal","title":null,"labelAlign":"left","labelBaseline":"middle"}}}},
     {"layer":[
      {"data":{"name":"th17_pts"},"mark":{"type":"point","filled":true,"size":28,"opacity":1},
       "encoding":{
        "x":{"field":"g","type":"nominal","scale":{"type":"band","domain":["D7_BBB","D7_BBM","D28_BBB","D28_BBM"],"paddingInner":0,"paddingOuter":0.164,"align":0.5},"axis":{"title":null,"labelExpr":"datum.value=='D7_BBM'?'Day 7':datum.value=='D28_BBM'?'Day 28':''","labelOffset":-13.75,"labelPadding":10,"labelFontSize":10,"labelAngle":0,"labelOverlap":false}},
        "xOffset":{"field":"k","type":"quantitative","scale":{"domain":[-6.9,6.9]}},
        "y":{"field":"v","type":"quantitative","scale":{"type":"log","domain":[0.001,100]},"axis":{"title":"Relative increase to Day 0","values":[0.001,0.01,0.1,1,10,100],"format":"~g","labelFontSize":8.5,"titleFontSize":11,"titlePadding":3}},
        "color":{"field":"s","type":"nominal","scale":{"domain":["BBB","BBM"],"range":["#FF2600","#0433FF"]},"legend":{"title":null,"orient":"none","legendX":133.5,"legendY":37,"labelFontSize":10,"labelFontWeight":"normal","symbolSize":30,"rowPadding":3,"labelOffset":6}},
        "shape":{"field":"s","type":"nominal","scale":{"domain":["BBB","BBM"],"range":["circle","square"]},"legend":{"title":null,"orient":"none","legendX":133.5,"legendY":37,"labelFontSize":10,"labelFontWeight":"normal","symbolSize":30,"rowPadding":3,"labelOffset":6}}}},
      {"data":{"values":[{"g":"D28_BBB"}]},"mark":{"type":"rule","color":"#333","strokeDash":[1,1.5],"strokeWidth":1},"encoding":{"x":{"field":"g","type":"nominal","bandPosition":0}}},
      {"data":{"name":"th17_st"},"mark":{"type":"rule","color":"#8c8c8c","strokeWidth":1.2},"encoding":{"x":{"field":"g","type":"nominal","bandPosition":0.5},"y":{"field":"lo","type":"quantitative"},"y2":{"field":"hi"}}},
      {"data":{"name":"th17_st"},"mark":{"type":"tick","color":"#8c8c8c","size":9,"thickness":1.2,"opacity":1},"encoding":{"x":{"field":"g","type":"nominal","bandPosition":0.5},"y":{"field":"lo","type":"quantitative"}}},
      {"data":{"name":"th17_st"},"mark":{"type":"tick","color":"#8c8c8c","size":9,"thickness":1.2,"opacity":1},"encoding":{"x":{"field":"g","type":"nominal","bandPosition":0.5},"y":{"field":"hi","type":"quantitative"}}},
      {"data":{"name":"th17_st"},"mark":{"type":"tick","color":"black","size":19,"thickness":1.3,"opacity":1},"encoding":{"x":{"field":"g","type":"nominal","bandPosition":0.5},"y":{"field":"m","type":"quantitative"}}},
      {"data":{"name":"th17_br"},"mark":{"type":"line","color":"black","strokeWidth":1.2},"encoding":{"x":{"field":"g","type":"nominal","bandPosition":0.5},"y":{"field":"y","type":"quantitative"},"detail":{"field":"b"},"order":{"field":"o"}}},
      {"data":{"name":"th17_sig"},"mark":{"type":"text","fontSize":13,"fontWeight":"bold","baseline":"alphabetic","dy":7,"dx":13.75,"color":"black"},"encoding":{"x":{"field":"g","type":"nominal","bandPosition":0.5},"y":{"field":"y","type":"quantitative"},"text":{"field":"lab"}}}
     ]}
    ]}
  ],"spacing":0,"bounds":"flush","resolve":{"scale":{"color":"independent","shape":"independent","xOffset":"independent"},"legend":{"color":"independent","shape":"independent"}}}
]
}
